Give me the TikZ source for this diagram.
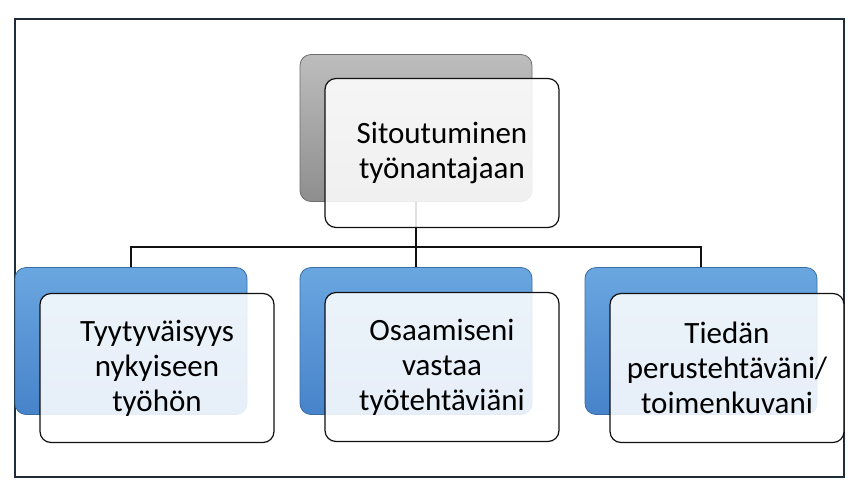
\documentclass[tikz,border=0pt]{standalone}
\usepackage{fontspec}
\setmainfont{Carlito}
\definecolor{frameC}{HTML}{1F2D3A}
\definecolor{blueTop}{HTML}{6AA6E0}
\definecolor{blueBot}{HTML}{4783CA}
\definecolor{blueEdge}{HTML}{3A6EA5}
\definecolor{grayTop}{HTML}{BDBDBD}
\definecolor{grayBot}{HTML}{8E8E8E}
\definecolor{grayEdge}{HTML}{6E6E6E}
\definecolor{lineC}{HTML}{111111}
\tikzset{
  backbox/.style={rectangle, rounded corners=11pt, minimum width=232pt, minimum height=147pt, inner sep=0pt},
  bluebox/.style={backbox, top color=blueTop, bottom color=blueBot, draw=blueEdge, line width=0.8pt},
  graybox/.style={backbox, top color=grayTop, bottom color=grayBot, draw=grayEdge, line width=0.8pt},
  frontbox/.style={rectangle, rounded corners=11pt, minimum width=234pt, minimum height=149pt, inner sep=0pt,
    draw=lineC, line width=1.2pt, fill=white, fill opacity=0.87, text opacity=1,
    align=center, font=\fontsize{31}{35}\selectfont, text=black},
  conn/.style={draw=lineC, line width=1.6pt},
}
\begin{document}
\begin{tikzpicture}[x=1pt,y=-1pt]
\useasboundingbox (0,0) rectangle (858,490);
\fill[white] (0,0) rectangle (858,490);
\draw[frameC, line width=1.3pt] (15,19) rectangle (844,477);
% back boxes
\node[graybox] (topback) at (416,128) {};
\node[bluebox] (b1back) at (131,341) {};
\node[bluebox] (b2back) at (416,341) {};
\node[bluebox] (b3back) at (701,341) {};
% connectors
\coordinate (hub) at (416,247);
\draw[conn] (topback.south) -- (b2back.north);
\draw[conn] (b1back.north) -- (b1back.north |- hub) -- (b3back.north |- hub) -- (b3back.north);
% front boxes
\node[frontbox] (topfront) at (442,153) {Sitoutuminen\\työnantajaan};
\node[frontbox] (b1front) at (157,368) {Tyytyväisyys\\nykyiseen\\työhön};
\node[frontbox] (b2front) at (442,367) {Osaamiseni\\vastaa\\työtehtäviäni};
\node[frontbox] (b3front) at (727,368) {Tiedän\\perustehtäväni/\\toimenkuvani};
\end{tikzpicture}
\end{document}
